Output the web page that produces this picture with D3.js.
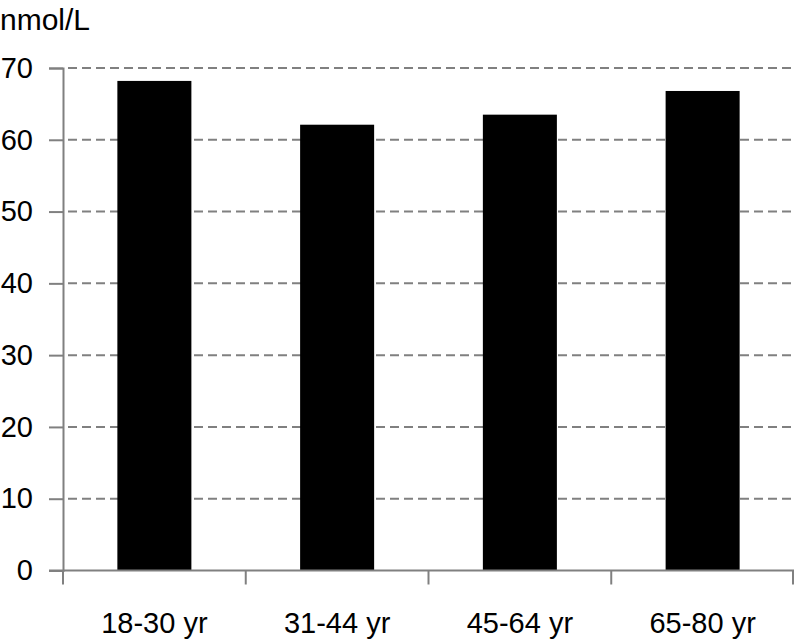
<!DOCTYPE html>
<html>
<head>
<meta charset="utf-8">
<script src="https://cdn.jsdelivr.net/npm/d3@7"></script>
<style>
  body { margin: 0; background: #fff; }
  text { font-family: "Liberation Sans", Arial, sans-serif; fill: #000; }
</style>
</head>
<body>
<svg id="chart" width="795" height="639"></svg>
<script>
var categories = ['18-30 yr', '31-44 yr', '45-64 yr', '65-80 yr'];
var values = [68.2, 62.1, 63.5, 66.8];
var yTicks = [0, 10, 20, 30, 40, 50, 60, 70];
var unitLabel = 'nmol/L';

var width = 795;
var height = 639;
var margin = { top: 68, right: 1, bottom: 68, left: 63 };

var svg = d3.select('#chart');

var x = d3.scaleBand()
    .domain(categories)
    .range([margin.left, width - margin.right])
    .paddingInner(0.595)
    .paddingOuter(0.2975);

var y = d3.scaleLinear()
    .domain([0, 70])
    .range([height - margin.bottom - 0.5, margin.top]);

// dashed gridlines
svg.append('g')
    .selectAll('line')
    .data(yTicks.filter(function (d) { return d > 0; }))
    .enter().append('line')
    .attr('x1', margin.left + 1)
    .attr('x2', width)
    .attr('y1', function (d) { return y(d); })
    .attr('y2', function (d) { return y(d); })
    .attr('stroke', '#808080')
    .attr('stroke-width', 2)
    .attr('stroke-dasharray', '9,5')
    .attr('stroke-dashoffset', -4);

// bars
svg.append('g')
    .selectAll('rect')
    .data(values)
    .enter().append('rect')
    .attr('x', function (d, i) { return x(categories[i]); })
    .attr('width', x.bandwidth())
    .attr('y', function (d) { return y(d); })
    .attr('height', function (d) { return y(0) - y(d); })
    .attr('fill', '#000');

// y axis
var yAxis = svg.append('g')
    .attr('transform', 'translate(' + margin.left + ',0)')
    .call(d3.axisLeft(y).tickValues(yTicks).tickSize(14).tickPadding(16));
yAxis.select('.domain').attr('stroke', '#808080').attr('stroke-width', 2);
yAxis.selectAll('.tick line').attr('stroke', '#808080').attr('stroke-width', 2);
yAxis.selectAll('.tick text').attr('font-size', 29).attr('fill', '#000')
    .style('font-family', '"Liberation Sans", Arial, sans-serif');

// x axis with boundary ticks
var xAxisY = y(0);
svg.append('line')
    .attr('x1', margin.left - 14).attr('x2', width - margin.right)
    .attr('y1', xAxisY).attr('y2', xAxisY)
    .attr('stroke', '#808080').attr('stroke-width', 2);

var bounds = categories.map(function (c) { return x(c) - x.step() * x.paddingInner() / 2; });
bounds.push(width - margin.right - 1);
svg.append('g')
    .selectAll('line')
    .data(bounds)
    .enter().append('line')
    .attr('x1', function (d) { return d; })
    .attr('x2', function (d) { return d; })
    .attr('y1', xAxisY)
    .attr('y2', xAxisY + 14)
    .attr('stroke', '#808080')
    .attr('stroke-width', 2);

svg.append('g')
    .selectAll('text')
    .data(categories)
    .enter().append('text')
    .attr('x', function (d) { return x(d) + x.bandwidth() / 2; })
    .attr('y', 633)
    .attr('text-anchor', 'middle')
    .attr('font-size', 29)
    .text(function (d) { return d; });

svg.append('text')
    .attr('x', 0)
    .attr('y', 30)
    .attr('font-size', 30)
    .text(unitLabel);
</script>
</body>
</html>
